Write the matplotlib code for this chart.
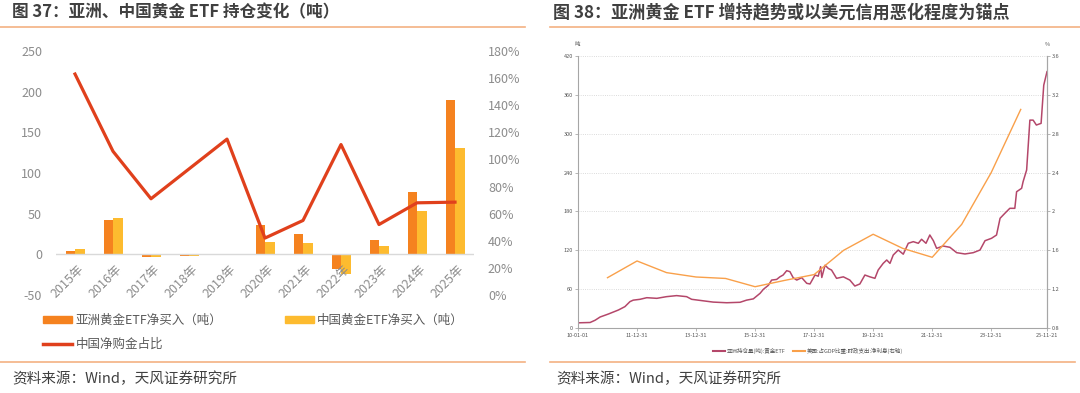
import numpy as np
import matplotlib.pyplot as plt
from matplotlib.lines import Line2D
from matplotlib.patches import Patch

plt.rcParams['font.family'] = ['Noto Sans CJK SC', 'DejaVu Sans']
plt.rcParams['axes.unicode_minus'] = False

# ---- left chart data (tons / %) ----
years = ['2015年', '2016年', '2017年', '2018年', '2019年', '2020年',
         '2021年', '2022年', '2023年', '2024年', '2025年']
asia_buy = [4, 42, -3, -2, -1, 36, 25, -18, 18, 77, 190]
china_buy = [7, 45, -3, -2, -1, 15, 14, -24, 10, 53, 131]
china_share = [163, 106, 71, 93, 115, 42, 55, 111, 52, 68, 68.5]

# ---- right chart data ----
asia_t = [2010.01, 2010.41, 2010.58, 2010.75, 2011.03, 2011.37, 2011.59, 2011.76, 2011.87, 2012.10,
          2012.33, 2012.67, 2013.00, 2013.34, 2013.68, 2013.85, 2014.24, 2014.58, 2015.04, 2015.49,
          2015.71, 2015.94, 2016.17, 2016.28, 2016.45, 2016.56, 2016.73, 2016.84, 2016.95, 2017.07,
          2017.18, 2017.29, 2017.41, 2017.58, 2017.75, 2017.86, 2018.03, 2018.14, 2018.22, 2018.26,
          2018.37, 2018.48, 2018.59, 2018.76, 2018.99, 2019.21, 2019.38, 2019.55, 2019.72, 2019.89,
          2020.06, 2020.17, 2020.34, 2020.46, 2020.57, 2020.68, 2020.85, 2021.02, 2021.19, 2021.36,
          2021.53, 2021.64, 2021.79, 2021.92, 2022.04, 2022.15, 2022.37, 2022.60, 2022.83, 2023.11,
          2023.39, 2023.62, 2023.79, 2024.01, 2024.18, 2024.30, 2024.46, 2024.63, 2024.80, 2024.86,
          2025.03, 2025.08, 2025.20, 2025.31, 2025.42, 2025.53, 2025.69, 2025.78, 2025.89]
asia_hold = [8, 8.5, 12, 17, 21.6, 27.8, 33, 40.7, 43, 44.3,
             46.8, 45.8, 48.4, 50, 48.4, 44.3, 42, 40, 39, 39.7,
             43, 45, 53.6, 59.7, 66, 74, 75, 79, 81.8, 88.5,
             87, 77.7, 74, 77.7, 69, 68, 81.8, 80, 94.7, 78,
             97, 92, 89.5, 76.7, 79, 74, 64.8, 68, 81.8, 79,
             76.7, 89.5, 99.8, 105, 99.8, 112.7, 120.4, 114, 130.8, 133.3,
             130.8, 137, 130.8, 143.6, 134.8, 123, 126.6, 124.6, 116.3, 114.3,
             116.3, 120.4, 134.8, 138.5, 143.6, 169.4, 177, 184.8, 184.8, 210.4,
             215.7, 225.9, 244, 321, 321, 313.4, 316, 375, 395.8]
net_t = [2011, 2012, 2013, 2014, 2015, 2016, 2017, 2018, 2019, 2020, 2021, 2022, 2023, 2024, 2025]
net_int = [1.318, 1.49, 1.37, 1.325, 1.31, 1.225, 1.29, 1.35, 1.60, 1.765, 1.62, 1.528, 1.867, 2.40, 3.05]
date_ticks = [2010.0, 2012.0, 2014.0, 2016.0, 2018.0, 2020.0, 2022.0, 2024.0, 2025.89]
date_labels = ['10-01-01', '11-12-31', '13-12-31', '15-12-31', '17-12-31',
               '19-12-31', '21-12-31', '23-12-31', '25-11-21']

c_asia = '#F5821F'
c_china = '#FDBB2F'
c_red = '#E0401C'
c_sep = '#F4B183'
c_txt = '#404040'
c_tick = '#8c8c8c'

W, H = 1080, 393
fig = plt.figure(figsize=(W / 100, H / 100), dpi=100)

def fx(px):
    return px / W

def fy(py):
    return 1 - py / H

# titles / separators / sources
fig.text(fx(12), fy(12), '图 37：亚洲、中国黄金 ETF 持仓变化（吨）', fontsize=12,
         fontweight='bold', color=c_txt, va='center')
fig.text(fx(553), fy(12), '图 38：亚洲黄金 ETF 增持趋势或以美元信用恶化程度为锚点', fontsize=12.3,
         fontweight='bold', color=c_txt, va='center')
for x0, x1 in [(0, 525), (550, 1080)]:
    fig.add_artist(Line2D([fx(x0), fx(x1)], [fy(27), fy(27)], color=c_sep, lw=1.2))
for x0, x1 in [(0, 525), (550, 1075)]:
    fig.add_artist(Line2D([fx(x0), fx(x1)], [fy(362), fy(362)], color=c_sep, lw=1.2))
fig.text(fx(12), fy(379), '资料来源：Wind，天风证券研究所', fontsize=10.5, color=c_txt, va='center')
fig.text(fx(556), fy(379), '资料来源：Wind，天风证券研究所', fontsize=10.5, color=c_txt, va='center')

# ---- left chart ----
ax = fig.add_axes([fx(56), fy(295), fx(474 - 56), (295 - 51) / H])
for s in ax.spines.values():
    s.set_visible(False)
ax.spines['bottom'].set_position(('data', 0))
x = np.arange(len(years))
ax.bar(x - 0.125, asia_buy, 0.25, color=c_asia)
ax.bar(x + 0.125, china_buy, 0.25, color=c_china)
ax.axhline(0, color='#d9d9d9', lw=1)
ax.set_xlim(-0.5, 10.5)
ax.set_ylim(-50, 250)
ax.set_yticks(range(-50, 251, 50))
ax.set_xticks(x + 0.05)
ax.set_xticklabels(years, rotation=45, ha='right', va='top', rotation_mode='anchor')
ax.tick_params(length=0, labelsize=9, colors=c_tick, pad=10)
ax.tick_params(axis='x', pad=6)

axr = ax.twinx()
axr.plot(x, china_share, color=c_red, lw=2.3)
axr.set_ylim(0, 180)
axr.set_yticks(range(0, 181, 20))
axr.set_yticklabels([f'{v}%' for v in range(0, 181, 20)])
for s in axr.spines.values():
    s.set_visible(False)
axr.tick_params(length=0, labelsize=9, colors=c_tick, pad=10)

handles = [Patch(color=c_asia), Line2D([], [], color=c_red, lw=2.5), Patch(color=c_china)]
labels = ['亚洲黄金ETF净买入（吨）', '中国净购金占比', '中国黄金ETF净买入（吨）']
fig.legend(handles, labels, ncol=2, loc='upper left', bbox_to_anchor=(fx(43), fy(314)),
           frameon=False, fontsize=9, handlelength=2.3, handleheight=0.5, handletextpad=0.3,
           columnspacing=5.0, labelspacing=0.9, borderpad=0, borderaxespad=0,
           labelcolor='#595959')

# ---- right chart ----
c_maroon = '#B4476A'
c_orange = '#F9A04A'
ax2 = fig.add_axes([fx(578), fy(328), fx(1047 - 578), (328 - 56) / H])
ax2.plot(asia_t, asia_hold, color=c_maroon, lw=1.1)
ax2.set_xlim(2010.0, 2025.89)
ax2.set_ylim(0, 420)
ax2.set_yticks(range(0, 421, 60))
ax2.set_xticks(date_ticks)
ax2.set_xticklabels(date_labels)
ax2.yaxis.grid(True, ls=':', color='#cfcfcf', lw=0.6)
ax2.set_axisbelow(True)
ax2.spines['top'].set_visible(False)
for k in ['left', 'right', 'bottom']:
    ax2.spines[k].set_color('#a6a6a6')
    ax2.spines[k].set_linewidth(0.8)
ax2.tick_params(labelsize=4, length=2, width=0.5, color='#999999', labelcolor='#555555', pad=1.5)

ax2r = ax2.twinx()
ax2r.plot(net_t, net_int, color=c_orange, lw=1.0)
ax2r.set_ylim(0.8, 3.6)
rt = [0.8, 1.2, 1.6, 2.0, 2.4, 2.8, 3.2, 3.6]
ax2r.set_yticks(rt)
ax2r.set_yticklabels(['0.8', '1.2', '1.6', '2', '2.4', '2.8', '3.2', '3.6'])
for k in ['top', 'left', 'bottom']:
    ax2r.spines[k].set_visible(False)
ax2r.spines['right'].set_color('#a6a6a6')
ax2r.spines['right'].set_linewidth(0.8)
ax2r.tick_params(labelsize=4, length=2, width=0.5, color='#999999', labelcolor='#555555', pad=1.5)

fig.text(fx(577), fy(45), '吨', fontsize=4, color='#555555', ha='center', va='center')
fig.text(fx(1047), fy(45), '%', fontsize=4, color='#555555', ha='center', va='center')

h2 = [Line2D([], [], color=c_maroon, lw=1.5), Line2D([], [], color=c_orange, lw=1.5)]
fig.legend(h2, ['亚洲持仓量(吨):黄金ETF', '美国:占GDP比重:财政支出:净利息(右轴)'], ncol=2,
           loc='center', bbox_to_anchor=(fx(808), fy(350.5)), frameon=False, fontsize=4,
           handlelength=2.2, handletextpad=0.4, columnspacing=1.2, borderpad=0,
           labelcolor='#555555')

fig.savefig('out.png', dpi=100, facecolor='white')
